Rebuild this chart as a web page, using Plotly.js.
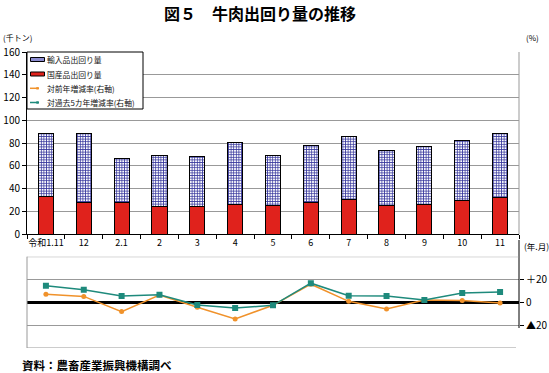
<!DOCTYPE html>
<html><head><meta charset="utf-8">
<script src="https://cdn.plot.ly/plotly-3.0.1.min.js"></script>
<style>html,body{margin:0;padding:0;background:#fff}#c{width:549px;height:373px}</style>
</head><body><div id="c"></div>
<script>
const categories = ["令和1.11","12","2.1","2","3","4","5","6","7","8","9","10","11"];
const importVol = [55.0,60.2,38.4,45.0,44.1,54.4,43.9,49.8,55.6,48.3,50.9,53.0,55.8];
const domesticVol = [33.3,28.1,28.0,24.0,24.0,26.0,25.1,28.0,30.4,25.1,26.0,29.2,32.5];
const yoyRate = [7.2,5.2,-8.1,6.4,-4.3,-14.5,-2.6,15.9,0.9,-5.8,2.0,1.7,-0.6];
const fiveYrRate = [14.5,11.0,5.5,6.7,-2.3,-4.9,-2.6,16.8,5.8,5.5,2.0,8.1,9.0];
const rightTickVals = [20,0,-20];
const rightTickText = ["＋20","0","▲20"];
const legendNames = ["輸入品出回り量","国産品出回り量","対前年増減率(右軸)","対過去5カ年増減率(右軸)"];

const F = "Noto Sans CJK JP, sans-serif";
const RED = '#e0221c', ORANGE = '#f0922b', TEAL = '#1e8a7c', NAVY = '#34349c';
const traces = [
  {type:'bar', x:categories, y:domesticVol, name:legendNames[1],
   marker:{color:RED, line:{color:'#000', width:1}}, width:0.4, xaxis:'x', yaxis:'y'},
  {type:'bar', x:categories, y:importVol, name:legendNames[0],
   marker:{color:'#ffffff', line:{color:'#000', width:1},
     pattern:{shape:'+', fgcolor:NAVY, bgcolor:'#ffffff', size:2.6, solidity:0.5}},
   width:0.4, xaxis:'x', yaxis:'y'},
  {type:'scatter', mode:'lines+markers', x:categories, y:yoyRate, name:legendNames[2],
   line:{color:ORANGE, width:1.5}, marker:{color:ORANGE, size:5, symbol:'circle'},
   xaxis:'x2', yaxis:'y2'},
  {type:'scatter', mode:'lines+markers', x:categories, y:fiveYrRate, name:legendNames[3],
   line:{color:TEAL, width:1.5}, marker:{color:TEAL, size:6, symbol:'square'},
   xaxis:'x2', yaxis:'y2'}
];

// pixel -> paper helpers (plot area: x 27..519, y 52..348)
const px = x => (x-27)/492, py = y => (348-y)/296;

const shapes = [
  {type:'line', xref:'paper', yref:'paper', x0:1, x1:1, y0:py(234), y1:1, line:{color:'#999', width:1}},
  {type:'line', xref:'paper', yref:'paper', x0:1, x1:1, y0:py(328), y1:py(240), line:{color:'#000', width:1}},
  {type:'line', xref:'paper', yref:'paper', x0:0, x1:0, y0:0, y1:py(256.7), line:{color:'#999', width:1}},
  {type:'line', xref:'x2', yref:'y2', x0:-0.5, x1:12.5, y0:40, y1:40, line:{color:'#999', width:1}},
  {type:'line', xref:'paper', yref:'y2', x0:0, x1:px(516), y0:-40, y1:-40, line:{color:'#999', width:1}},
  // legend box
  {type:'rect', xref:'paper', yref:'paper', x0:px(27), x1:px(143), y0:py(109), y1:py(52), line:{color:'#000', width:1}, fillcolor:'#fff'}
];
const legY = [59.5, 74, 88.3, 102.5];
shapes.push({type:'rect', xref:'paper', yref:'paper', x0:px(30.5), x1:px(44.5), y0:py(legY[0]+2), y1:py(legY[0]-2), line:{color:'#000', width:1}, fillcolor:'#8c8cd0'});
shapes.push({type:'rect', xref:'paper', yref:'paper', x0:px(30.5), x1:px(44.5), y0:py(legY[1]+2), y1:py(legY[1]-2), line:{color:'#000', width:1}, fillcolor:RED});
[[ORANGE, legY[2]], [TEAL, legY[3]]].forEach(([c, y]) => {
  shapes.push({type:'line', xref:'paper', yref:'paper', x0:px(30), x1:px(45), y0:py(y), y1:py(y), line:{color:c, width:1.5, dash:'dash'}});
  shapes.push({type:'rect', xref:'paper', yref:'paper', x0:px(36.3), x1:px(38.7), y0:py(y+1.2), y1:py(y-1.2), line:{color:c, width:0}, fillcolor:c});
});

const annotations = [
  {text:'<b>図５　牛肉出回り量の推移</b>', xref:'paper', yref:'paper', x:px(260), y:py(13),
   showarrow:false, font:{family:F, size:16}, xanchor:'center', yanchor:'middle'},
  {text:'(千トン)', xref:'paper', yref:'paper', x:px(1), y:py(37), showarrow:false,
   xanchor:'left', yanchor:'middle', font:{family:F, size:8}},
  {text:'(%)', xref:'paper', yref:'paper', x:px(524), y:py(37), showarrow:false,
   xanchor:'left', yanchor:'middle', font:{family:F, size:8}},
  {text:'(年.月)', xref:'paper', yref:'paper', x:px(522), y:py(246), showarrow:false,
   xanchor:'left', yanchor:'middle', font:{family:F, size:8.5}},
  {text:'<b>資料：農畜産業振興機構調べ</b>', xref:'paper', yref:'paper', x:px(21), y:py(365),
   showarrow:false, xanchor:'left', yanchor:'middle', borderpad:0, font:{family:F, size:11.5}}
];
legendNames.forEach((n, i) => annotations.push({text:n, xref:'paper', yref:'paper', x:px(46), y:py(legY[i]),
  showarrow:false, xanchor:'left', yanchor:'middle', borderpad:0, font:{family:F, size:7.8, color:'#111'}}));

const layout = {
  width:549, height:373,
  margin:{l:27, r:30, t:52, b:25},
  paper_bgcolor:'#fff', plot_bgcolor:'#fff',
  font:{family:F, size:10, color:'#000'},
  barmode:'stack', showlegend:false,
  xaxis:{type:'category', domain:[0,1], anchor:'y', tickson:'boundaries', ticks:'outside', ticklen:4,
    tickcolor:'#000', showline:true, linecolor:'#000', linewidth:1, showgrid:false, tickangle:0,
    tickfont:{family:F, size:9}, range:[-0.5,12.5]},
  yaxis:{domain:[py(234),1], anchor:'x', range:[0,160], dtick:20, ticks:'outside', ticklen:4, tickcolor:'#000',
    showline:true, linecolor:'#000', gridcolor:'#999', gridwidth:1, zeroline:false,
    tickfont:{family:F, size:10}},
  xaxis2:{type:'category', domain:[0,1], anchor:'y2', showticklabels:false, showgrid:false, ticks:'',
    showline:false, range:[-0.5,12.5]},
  yaxis2:{domain:[0,py(256.7)], anchor:'x2', side:'right', range:[-40,40], tickvals:rightTickVals,
    ticktext:rightTickText,
    gridcolor:'#999', gridwidth:1, zeroline:true, zerolinecolor:'#000', zerolinewidth:2.5,
    showline:false, ticks:'outside', ticklen:4, tickcolor:'#000', tickfont:{family:F, size:10}},
  shapes, annotations
};
Plotly.newPlot('c', traces, layout, {staticPlot:true});
</script></body></html>
